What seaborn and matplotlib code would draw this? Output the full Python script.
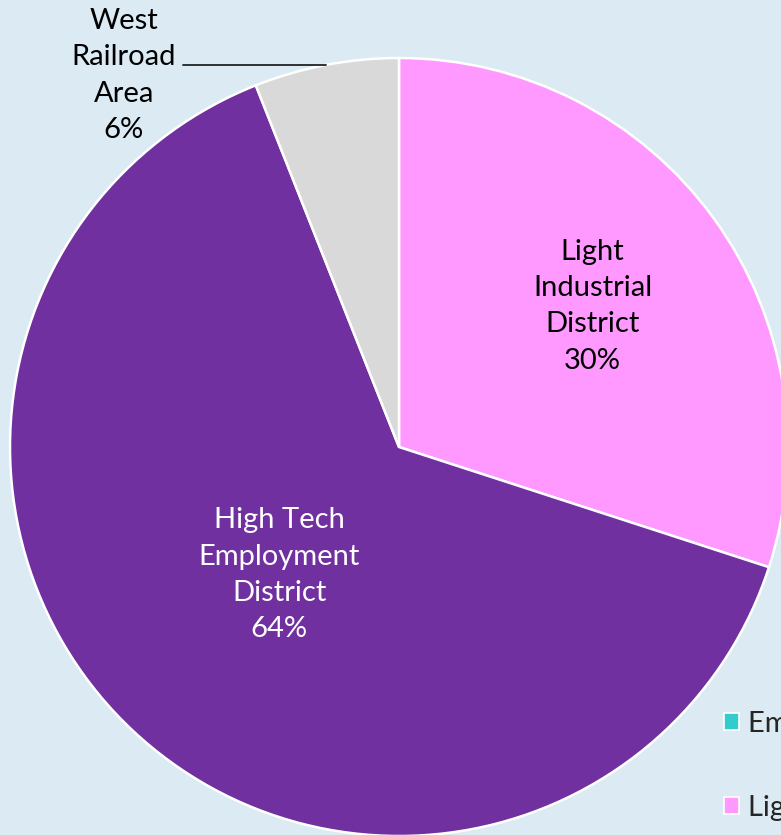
import numpy as np
import matplotlib
matplotlib.use("Agg")
import matplotlib.pyplot as plt
from matplotlib.patches import Patch
import seaborn as sns

# Share of land area by district (percent)
districts = ["Light Industrial District", "High Tech Employment District", "West Railroad Area"]
pie_labels = ["Light\nIndustrial\nDistrict", "High Tech\nEmployment\nDistrict", "West\nRailroad\nArea"]
shares = [30, 64, 6]
colors = ["#ff99ff", "#7030a0", "#d9d9d9"]

# Legend entries (first category has no area in the chart)
legend_names = ["Employment Center", "Light Industrial District",
                "High Tech Employment District", "West Railroad Area"]
legend_colors = ["#33cccc", "#ff99ff", "#7030a0", "#d9d9d9"]

sns.set_theme(style="white")
plt.rcParams["font.family"] = ["Lato", "DejaVu Sans"]

bg = "#dbeaf3"
W, H = 781, 835
fig = plt.figure(figsize=(W / 100, H / 100), dpi=100, facecolor=bg)

cx, cy, r = 399, 447, 389
ax = fig.add_axes([(cx - r) / W, (H - cy - r) / H, 2 * r / W, 2 * r / H])
ax.set_facecolor("none")
ax.axis("off")

wedges, _ = ax.pie(shares, colors=colors, startangle=90, counterclock=False,
                   radius=1, wedgeprops=dict(edgecolor="white", linewidth=1.8))
for w in wedges:
    w.set_clip_on(False)
ax.set_xlim(-1, 1)
ax.set_ylim(-1, 1)

fs = 21
ls = 1.48
label_r = [0.615, 0.45, None]
for w, lab, v, lr in zip(wedges, pie_labels, shares, label_r):
    mid = np.deg2rad((w.theta1 + w.theta2) / 2)
    txt = f"{lab}\n{v}%"
    if lr is not None:
        ax.text(lr * np.cos(mid), lr * np.sin(mid), txt, ha="center", va="center",
                fontsize=fs, color="white" if w.get_facecolor()[0] < 0.6 else "black",
                linespacing=ls)
    else:
        ex, ey = np.cos(mid), np.sin(mid)
        ax.plot([ex, -0.555], [ey, ey], color="#222222", lw=1.3, clip_on=False)
        ax.text(-0.707, 0.955, txt, ha="center", va="center", fontsize=fs,
                color="black", linespacing=ls)

handles = [Patch(facecolor=c, edgecolor="white", linewidth=1.2) for c in legend_colors]
fig.legend(handles, legend_names, loc="upper left", bbox_to_anchor=(712 / W, 1 - 699 / H),
           frameon=False, fontsize=fs, handlelength=0.52, handleheight=0.52,
           handletextpad=0.3, labelspacing=2.0, borderaxespad=0)

fig.savefig("out.png", dpi=100, facecolor=bg)
